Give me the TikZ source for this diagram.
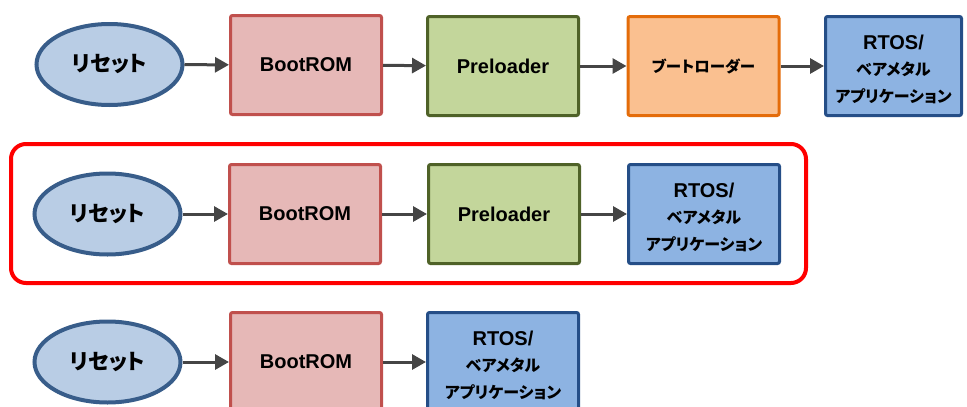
\documentclass[tikz,border=0pt]{standalone}
\usepackage{fontspec}
\setmainfont{Liberation Sans}
\newfontfamily\jp[RawFeature=+palt]{Noto Sans CJK JP}
\usetikzlibrary{arrows.meta,shapes.geometric}

\definecolor{resetfill}{HTML}{B9CDE5}
\definecolor{resetline}{HTML}{385D8A}
\definecolor{romfill}{HTML}{E6B8B7}
\definecolor{romline}{HTML}{C0504D}
\definecolor{prefill}{HTML}{C3D69B}
\definecolor{preline}{HTML}{4F6228}
\definecolor{blfill}{HTML}{FAC090}
\definecolor{blline}{HTML}{E46C0A}
\definecolor{appfill}{HTML}{8DB3E2}
\definecolor{appline}{HTML}{254E87}
\definecolor{arrowgray}{HTML}{454545}
\definecolor{framered}{HTML}{FF0000}

\begin{document}
\begin{tikzpicture}[x=1pt,y=-1pt,
  reset/.style={ellipse, draw=resetline, fill=resetfill, line width=4pt,
    minimum width=146pt, minimum height=81pt, inner sep=0pt,
    font=\jp\bfseries\fontsize{21.5}{24}\selectfont},
  stage/.style={rectangle, line width=3pt, rounded corners=2pt, inner sep=0pt,
    minimum width=151pt, minimum height=99pt, align=center,
    font=\bfseries\fontsize{20}{26.5}\selectfont},
  rom/.style={stage, draw=romline, fill=romfill},
  pre/.style={stage, draw=preline, fill=prefill},
  boot/.style={stage, draw=blline, fill=blfill,
    font=\jp\bfseries\fontsize{15.5}{20}\selectfont},
  app/.style={stage, draw=appline, fill=appfill},
  flow/.style={draw=arrowgray, line width=3pt,
    -{Triangle[length=14pt,width=15pt]}},
  frame/.style={draw=framered, line width=4pt, rounded corners=15pt}
]
\useasboundingbox (0,0) rectangle (967,407);

\newcommand{\apptext}{\rule{0pt}{21pt}RTOS/\\{\jp\fontsize{16}{26.5}\selectfont ベアメタル}\\{\jp\fontsize{16}{26.5}\selectfont アプリケーション}}

% full chain with a separate boot loader
\node[reset] (r1) at (109.5,64.5) {リセット};
\node[rom]  (b1) at (306,65) {BootROM};
\node[pre]  (p1) at (503,66) {Preloader};
\node[boot] (l1) at (703.5,66) {ブートローダー};
\node[app, minimum width=136pt] (a1) at (893.5,66) {\apptext};
\draw[flow] (r1) -- (b1);
\draw[flow] (b1) -- (p1);
\draw[flow] (p1) -- (l1);
\draw[flow] (l1) -- (a1);

% preloader starts the application directly
\node[frame, minimum width=795pt, minimum height=139pt] (f2) at (408.5,213.5) {};
\node[reset] (r2) at (107.5,214) {リセット};
\node[rom]  (b2) at (305,214) {BootROM};
\node[pre]  (p2) at (504,214) {Preloader};
\node[app]  (a2) at (704,214) {\apptext};
\draw[flow] (r2) -- (b2);
\draw[flow] (b2) -- (p2);
\draw[flow] (p2) -- (a2);

% BootROM starts the application directly
\node[reset] (r3) at (107.5,362) {リセット};
\node[rom]  (b3) at (306,362) {BootROM};
\node[app]  (a3) at (503,362) {\apptext};
\draw[flow] (r3) -- (b3);
\draw[flow] (b3) -- (a3);
\end{tikzpicture}
\end{document}
